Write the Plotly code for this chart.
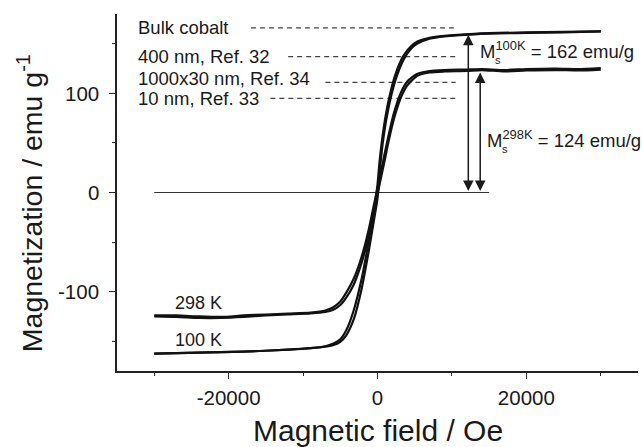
import plotly.graph_objects as go

# ---------------- data ----------------
# 298 K hysteresis loop (field in Oe, magnetization in emu/g)
H_298_asc = [-30000, -27000, -24000, -21000, -18000, -15000, -12000, -9000, -7000, -6000,
             -5000, -4200, -3200, -2100, -1200, -500, 0, 500, 900, 1500, 2200, 3100, 4000,
             5300, 7000, 9000, 12000, 14000, 17000, 20000, 24000, 27000, 30000]
M_298_asc = [-125, -125.5, -126.5, -126.5, -125.5, -124, -123, -122, -120.5, -118.5,
             -113.5, -106, -93, -70, -44, -19, -2, 16, 30, 52, 74, 95, 108,
             117.5, 121, 122, 122.5, 123.5, 122, 123, 123.5, 123, 124]
H_298_desc = [30000, 27000, 24000, 20000, 17000, 14000, 12000, 9000, 7000, 5300, 4000,
              3100, 2200, 1500, 900, 500, 0, -500, -1200, -2100, -3200, -4200, -5000,
              -6000, -7000, -9000, -12000, -15000, -18000, -21000, -24000, -27000, -30000]
M_298_desc = [125.5, 124.5, 125, 124.5, 123.5, 124.5, 124, 123.5, 122.5, 119.5, 112,
              100, 80, 58, 37, 22, 4, -13, -38, -64, -87, -101, -110,
              -116, -119, -121, -122, -123, -124, -125.5, -125, -124, -124]

# 100 K hysteresis loop
H_100_asc = [-30000, -24000, -18000, -12000, -9000, -7000, -6000, -5000, -4200, -3200,
             -2100, -1200, -500, 0, 300, 850, 1500, 2400, 3500, 4500, 5300, 7000, 9000,
             13000, 20000, 25000, 30000]
M_100_asc = [-162.5, -161.5, -160.5, -158.5, -157, -155.5, -154, -150.5, -144, -128,
             -96, -60, -29, -6, 22, 58, 86, 113, 134, 145, 150, 155, 157.5,
             159.5, 161, 161.5, 162.5]
H_100_desc = [30000, 25000, 20000, 13000, 9000, 7000, 5300, 4500, 3500, 2400, 1500, 850,
              300, 0, -500, -1200, -2100, -3200, -4200, -5000, -6000, -7000, -9000,
              -12000, -18000, -24000, -30000]
M_100_desc = [162.5, 162, 161.5, 160, 158, 156, 152, 147.5, 138, 119, 93, 66,
              33, 8, -19, -50, -86, -119, -139, -148, -152.5, -155, -157,
              -158.5, -160.5, -161.5, -162.5]

# literature saturation magnetizations
ref_labels = ["Bulk cobalt", "400 nm, Ref. 32", "1000x30 nm, Ref. 34", "10 nm, Ref. 33"]
ref_ms = [166, 137, 111, 95]

# measured saturation magnetizations
temps = ["100K", "298K"]
ms_values = [162, 124]
ms_arrow_top = [159, 121]

curve_labels = ["298 K", "100 K"]
curve_label_y = [-111, -149]

x_ticks = [-20000, 0, 20000]
x_minor = [-30000, -10000, 10000, 30000]
y_ticks = [-100, 0, 100]
y_minor = [-150, -50, 50, 150]

# ---------------- layout constants ----------------
FONT = "Liberation Sans, Arial, Helvetica, sans-serif"
INK = "#1a1a1a"
ref_line_start = [-17000, -12000, -7000, -14400]
ref_line_end = 10500
ref_label_y_offset = [0, 0, 4, 0]
arrow_x = [12200, 13800]
ms_text_x = [13500, 14500]
ms_text_y = [144, 54]

fig = go.Figure()

# dashed reference lines
for ms, x0 in zip(ref_ms, ref_line_start):
    fig.add_trace(go.Scatter(x=[x0, ref_line_end], y=[ms, ms], mode="lines",
                             line=dict(color="#444444", width=1.2, dash="5px,4px"),
                             hoverinfo="skip", showlegend=False))

# zero line
fig.add_trace(go.Scatter(x=[-30000, 15000], y=[0, 0], mode="lines",
                         line=dict(color="#333333", width=1.2),
                         hoverinfo="skip", showlegend=False))

# hysteresis branches
for hx, my in [(H_298_asc, M_298_asc), (H_298_desc, M_298_desc),
               (H_100_asc, M_100_asc), (H_100_desc, M_100_desc)]:
    fig.add_trace(go.Scatter(x=hx, y=my, mode="lines",
                             line=dict(color="#111111", width=2.2, shape="spline", smoothing=0.6),
                             showlegend=False))

annotations = []
# y tick labels (right-aligned next to the ticks)
for v in y_ticks:
    annotations.append(dict(x=-0.031, y=v, xref="paper", yref="y", text=str(v),
                            showarrow=False, xanchor="right", yanchor="middle",
                            font=dict(family=FONT, size=20.5, color=INK)))

# reference labels
for lab, ms, off in zip(ref_labels, ref_ms, ref_label_y_offset):
    annotations.append(dict(x=-32400, y=ms + off, xref="x", yref="y", text=lab,
                            showarrow=False, xanchor="left", yanchor="middle",
                            font=dict(family=FONT, size=18.5, color=INK)))

# curve labels
for lab, yv in zip(curve_labels, curve_label_y):
    annotations.append(dict(x=-27500, y=yv, xref="x", yref="y", text=lab,
                            showarrow=False, xanchor="left", yanchor="middle",
                            font=dict(family=FONT, size=18, color=INK)))

# double-headed arrows
for xa, top in zip(arrow_x, ms_arrow_top):
    annotations.append(dict(x=xa, y=top, ax=xa, ay=0, xref="x", yref="y",
                            axref="x", ayref="y", text="", showarrow=True,
                            arrowhead=2, startarrowhead=2, arrowside="end+start",
                            arrowsize=1.4, startarrowsize=1.4, arrowwidth=1.5,
                            arrowcolor=INK, standoff=0, startstandoff=0))

# Ms texts
for t, v, xt, yt in zip(temps, ms_values, ms_text_x, ms_text_y):
    annotations.append(dict(x=xt, y=yt, xref="x", yref="y",
                            text=f"M<sup>{t}</sup> = {v} emu/g",
                            showarrow=False, xanchor="left", yanchor="middle",
                            font=dict(family=FONT, size=18.5, color=INK)))
    annotations.append(dict(x=xt, y=yt, xref="x", yref="y", text="s",
                            showarrow=False, xanchor="left", yanchor="middle",
                            xshift=15, yshift=-10,
                            font=dict(family=FONT, size=11, color=INK)))

# axis titles
annotations.append(dict(x=0.5, y=-0.168, xref="paper", yref="paper",
                        text="Magnetic field / Oe", showarrow=False,
                        xanchor="center", yanchor="middle",
                        font=dict(family=FONT, size=30, color=INK)))
annotations.append(dict(x=-0.167, y=0.47, xref="paper", yref="paper",
                        text="Magnetization / emu g<sup>-1</sup>", showarrow=False,
                        textangle=-90, xanchor="center", yanchor="middle",
                        font=dict(family=FONT, size=28.5, color=INK)))

axis_common = dict(showgrid=False, zeroline=False, showline=True, linecolor="#222222",
                   linewidth=1.5, ticks="outside", ticklen=6, tickwidth=1.3,
                   tickcolor="#222222", mirror=False,
                   tickfont=dict(family=FONT, size=20.5, color=INK))

fig.update_layout(
    width=643, height=447,
    margin=dict(l=117, r=5, t=14, b=76),
    paper_bgcolor="white", plot_bgcolor="white",
    showlegend=False,
    annotations=annotations,
    xaxis=dict(range=[-35000, 35000], tickmode="array", tickvals=x_ticks,
               ticktext=[str(v) for v in x_ticks],
               minor=dict(tickmode="array", tickvals=x_minor, ticklen=3,
                          tickwidth=1.2, tickcolor="#222222", ticks="outside"),
               ticklabelstandoff=2, **axis_common),
    yaxis=dict(range=[-180, 180], tickmode="array", tickvals=y_ticks,
               showticklabels=False,
               minor=dict(tickmode="array", tickvals=y_minor, ticklen=3,
                          tickwidth=1.2, tickcolor="#222222", ticks="outside"),
               **axis_common),
)

fig.write_html("out.html")
